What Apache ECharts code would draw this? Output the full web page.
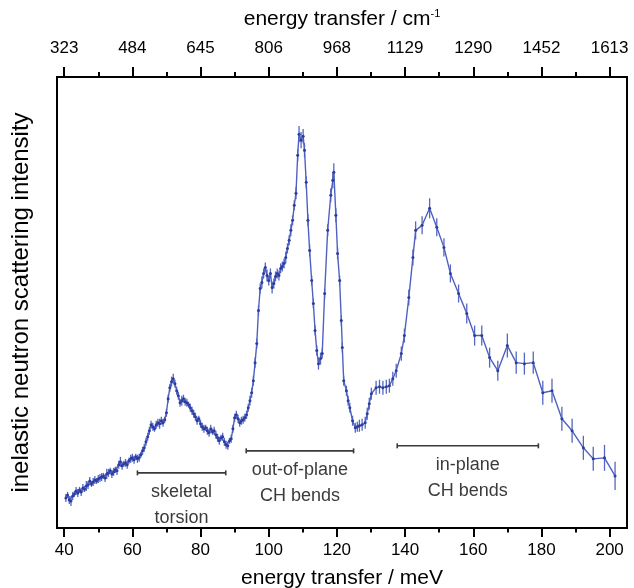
<!DOCTYPE html>
<html>
<head>
<meta charset="utf-8">
<script src="https://cdn.jsdelivr.net/npm/echarts@6/dist/echarts.min.js"></script>
<style>
html,body{margin:0;padding:0;background:#fff;}
#chart{width:634px;height:588px;}
</style>
</head>
<body>
<div id="chart"></div>
<script>
// energy transfer / meV
const energy = [
40.5,41,41.5,42,42.5,43,43.5,44,44.5,45,45.5,46,46.5,47,47.5,48,48.5,49,49.5,50,
50.5,51,51.5,52,52.5,53,53.5,54,54.5,55,55.5,56,56.5,57,57.5,58,58.5,59,59.5,60,
60.5,61,61.5,62,62.5,63,63.5,64,64.5,65,65.5,66,66.5,67,67.5,68,68.5,69,69.5,70,
70.5,71,71.5,72,72.5,73,73.5,74,74.5,75,75.5,76,76.5,77,77.5,78,78.5,79,79.5,80,
80.5,81,81.5,82,82.5,83,83.5,84,84.5,85,85.5,86,86.5,87,87.5,88,88.5,89,89.5,90,
90.5,91,91.5,92,92.5,93,93.5,94,94.5,95,95.5,96,96.5,97,97.5,98,98.5,99,99.5,100,
100.5,101,101.5,102,102.5,103,103.5,104,104.5,105,105.5,106,106.5,107,107.5,108,108.5,
108.9,109.5,110.1,110.5,111,111.5,112,112.6,113.1,113.6,114.1,114.6,115.2,115.7,116.4,117.3,118.2,118.8,119.1,119.7,
120.2,120.8,121.3,121.6,122,122.8,123.3,123.8,124.6,125.4,126,126.6,127.4,128.3,128.9,129.5,130.1,131.5,132.5,133.5,
134.5,135.4,136.4,137.4,138.9,139.8,141.1,142.3,143.1,145,147.2,149.3,151.4,153.3,155.7,158.1,160.4,162.5,164.8,167.2,
170,172.6,175,177.6,180.4,183.1,186,189,192.3,195.2,198.5,201.6
];
// inelastic neutron scattering intensity (arbitrary units)
const intensity = [
30,33,28,27,32,34,37,35,38,36,40,39,42,43,47,44,46,48,47,49,
50,51,52,50,54,55,57,54,56,58,57,63,66,62,64,65,63,67,69,70,
68,71,69,70,73,77,80,86,91,97,103,101,99,103,105,104,107,105,108,115,
129,140,146,149,144,137,132,125,127,129,126,125,123,120,117,114,111,107,109,104,
101,99,100,97,95,99,96,97,93,90,87,90,91,86,83,82,87,89,99,110,
113,109,105,107,108,110,113,120,127,135,147,165,184,217,239,245,254,260,252,247,
254,240,244,251,254,252,259,261,264,270,279,287,297,307,322,334,372,
393,387,391,377,345,307,277,247,224,197,177,164,169,174,234,297,332,347,355,312,
274,247,207,180,147,137,127,120,107,100,101,102,103,105,114,124,134,140,141,140,
141,142,149,157,174,192,230,270,297,302,319,300,280,254,234,214,192,192,170,157,
182,165,164,165,135,137,109,97,80,69,70,52
];
// error (half-length of error bar)
const errors = [
4,3,4,5,4,3,4,4,3,4,4,3,5,4,4,3,4,4,3,4,
4,4,3,4,5,4,3,4,4,3,4,4,5,4,3,4,4,3,4,4,
4,3,4,4,3,4,4,4,4,4,4,4,3,4,4,5,4,4,3,4,
4,4,5,5,4,4,4,4,5,4,4,4,3,4,4,4,4,4,3,4,
4,4,3,4,4,4,3,4,4,4,4,3,4,4,4,4,3,4,4,4,
4,4,4,4,4,4,4,4,5,5,5,5,5,5,5,6,5,5,6,5,
5,6,5,5,5,5,5,5,5,6,5,5,6,5,5,6,6,
8,8,7,7,6,6,6,5,5,5,5,6,6,5,5,6,7,8,9,7,
6,5,5,5,5,5,5,5,5,5,5,6,6,6,6,6,6,7,7,7,
7,7,7,7,7,7,8,8,9,9,10,9,9,9,9,10,10,10,10,10,
12,11,11,11,12,12,12,12,12,12,13,14
];
const xMin = 37.9, xMax = 205.1;
const majorTicks = [40,60,80,100,120,140,160,180,200];
const minorTicks = [50,70,90,110,130,150,170,190];
const topTickLabels = ['323','484','645','806','968','1129','1290','1452','1613'];
// annotations (bands)
const annoStart = [61.5, 93.4, 137.7];
const annoEnd = [87.4, 124.9, 179.1];
const annoLevel = [55, 77, 82];
const annoText = ['skeletal\ntorsion', 'out-of-plane\nCH bends', 'in-plane\nCH bends'];

const FONT = 'Liberation Sans, Arial, sans-serif';
const chart = echarts.init(document.getElementById('chart'), null, {renderer: 'canvas'});

const lineData = energy.map((e, i) => [e, intensity[i]]);
const errData = energy.map((e, i) => [e, intensity[i] - errors[i], intensity[i] + errors[i]]);
const annoData = annoStart.map((s, i) => [s, annoEnd[i], annoLevel[i]]);

function baseX(extra) {
  return Object.assign({
    type: 'value', min: xMin, max: xMax, gridIndex: 0,
    splitLine: {show: false},
    axisLine: {show: false},
    nameMoveOverlap: false
  }, extra);
}

const option = {
  backgroundColor: '#fff',
  animation: false,
  grid: {left: 57, right: 7, top: 77, bottom: 60, show: true, borderColor: '#000', borderWidth: 2,
    backgroundColor: 'transparent', containLabel: false, outerBoundsMode: 'none'},
  xAxis: [
    baseX({
      position: 'bottom',
      name: 'energy transfer / meV', nameLocation: 'middle', nameGap: 40,
      nameTextStyle: {fontSize: 21, color: '#000', fontFamily: FONT},
      axisTick: {show: true, inside: false, length: 9, customValues: majorTicks, lineStyle: {color: '#000', width: 2}},
      axisLabel: {show: true, customValues: majorTicks, fontSize: 17, color: '#000', fontFamily: FONT, margin: 14}
    }),
    baseX({
      position: 'bottom',
      axisTick: {show: true, inside: false, length: 4.5, customValues: minorTicks, lineStyle: {color: '#000', width: 2}},
      axisLabel: {show: false}
    }),
    baseX({
      position: 'top',
      name: 'energy transfer / cm{sup|-1}', nameLocation: 'middle', nameGap: 46,
      nameTextStyle: {fontSize: 21, color: '#000', fontFamily: FONT,
        rich: {sup: {fontSize: 11, color: '#000', fontFamily: FONT, verticalAlign: 'top', padding: [0, 0, 12, 0]}}},
      axisTick: {show: true, inside: false, length: 10, customValues: majorTicks, lineStyle: {color: '#000', width: 2}},
      axisLabel: {show: true, customValues: majorTicks, fontSize: 17, color: '#000', fontFamily: FONT, margin: 20,
        formatter: v => { const k = majorTicks.indexOf(v); return k >= 0 ? topTickLabels[k] : ''; }}
    }),
    baseX({
      position: 'top',
      axisTick: {show: true, inside: false, length: 5, customValues: minorTicks, lineStyle: {color: '#000', width: 2}},
      axisLabel: {show: false}
    })
  ],
  yAxis: [{
    type: 'value', min: 0, max: 450, position: 'left',
    name: 'inelastic neutron scattering intensity', nameLocation: 'middle', nameGap: 24, nameRotate: 90,
    nameMoveOverlap: false,
    nameTextStyle: {fontSize: 24, color: '#000', fontFamily: FONT},
    axisLine: {show: false}, axisTick: {show: false}, axisLabel: {show: false}, splitLine: {show: false}
  }],
  series: [
    {
      type: 'custom', xAxisIndex: 0, yAxisIndex: 0, data: errData, z: 3,
      renderItem: (params, api) => {
        const p1 = api.coord([api.value(0), api.value(1)]);
        const p2 = api.coord([api.value(0), api.value(2)]);
        return {type: 'line', shape: {x1: p1[0], y1: p1[1], x2: p2[0], y2: p2[1]},
          style: {stroke: '#5566c4', lineWidth: 1.3}};
      }
    },
    {
      type: 'line', xAxisIndex: 0, yAxisIndex: 0, data: lineData, z: 4,
      symbol: 'circle', symbolSize: 3, showSymbol: true,
      lineStyle: {color: '#4f61c0', width: 1.4},
      itemStyle: {color: '#2c3d9e'}
    },
    {
      type: 'custom', xAxisIndex: 0, yAxisIndex: 0, data: annoData, z: 5,
      renderItem: (params, api) => {
        const a = api.coord([api.value(0), api.value(2)]);
        const b = api.coord([api.value(1), api.value(2)]);
        const y = a[1];
        const st = {stroke: '#3a3a3a', lineWidth: 1.6};
        return {type: 'group', children: [
          {type: 'line', shape: {x1: a[0], y1: y, x2: b[0], y2: y}, style: st},
          {type: 'line', shape: {x1: a[0], y1: y - 2.5, x2: a[0], y2: y + 2.5}, style: st},
          {type: 'line', shape: {x1: b[0], y1: y - 2.5, x2: b[0], y2: y + 2.5}, style: st},
          {type: 'text', x: (a[0] + b[0]) / 2, y: y + 6,
            style: {text: annoText[params.dataIndex], fill: '#3b3b3b', font: '18px ' + FONT,
              align: 'center', verticalAlign: 'top', lineHeight: 26}}
        ]};
      }
    }
  ]
};
chart.setOption(option);
</script>
</body>
</html>
